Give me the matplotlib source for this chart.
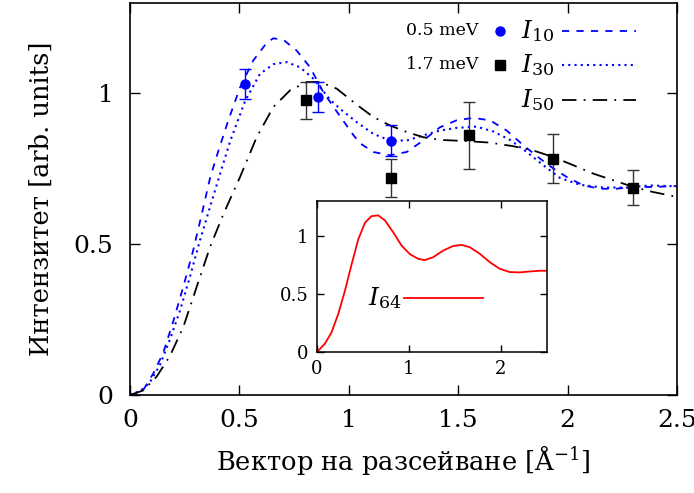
import matplotlib
matplotlib.use('Agg')
import matplotlib.pyplot as plt

plt.rcParams['font.family'] = ['DejaVu Serif']
plt.rcParams['mathtext.fontset'] = 'dejavuserif'

# експериментални точки
q_05 = [0.526, 0.86, 1.193]
i_05 = [1.03, 0.987, 0.844]
err_05 = [0.05, 0.05, 0.05]

q_17 = [0.804, 1.193, 1.55, 1.935, 2.30]
i_17 = [0.977, 0.719, 0.861, 0.784, 0.688]
err_17 = [0.062, 0.063, 0.11, 0.081, 0.059]

# теоретични криви (отчетени от графиката)
q_10 = [0, 0.03, 0.061, 0.107, 0.152, 0.198, 0.244, 0.289, 0.328, 0.366, 0.404,
        0.449, 0.503, 0.564, 0.625, 0.655, 0.701, 0.762, 0.823, 0.883, 0.945,
        1.021, 1.051, 1.112, 1.188, 1.265, 1.34, 1.417, 1.493, 1.569, 1.645,
        1.722, 1.798, 1.874, 1.935, 1.996, 2.072, 2.148, 2.224, 2.3, 2.392, 2.5]
i_10 = [0, 0.005, 0.017, 0.072, 0.14, 0.245, 0.36, 0.48, 0.6, 0.72, 0.81,
        0.91, 1.02, 1.11, 1.168, 1.183, 1.178, 1.142, 1.087, 1.005, 0.94,
        0.862, 0.835, 0.806, 0.795, 0.806, 0.844, 0.888, 0.911, 0.919, 0.911,
        0.877, 0.828, 0.784, 0.751, 0.723, 0.695, 0.684, 0.684, 0.69, 0.69, 0.693]

q_30 = [0, 0.05, 0.091, 0.137, 0.183, 0.229, 0.274, 0.32, 0.366, 0.404, 0.457,
        0.526, 0.594, 0.655, 0.716, 0.777, 0.838, 0.914, 0.96, 1.036, 1.112,
        1.188, 1.265, 1.34, 1.417, 1.493, 1.584, 1.66, 1.737, 1.813, 1.889,
        1.965, 2.057, 2.163, 2.27, 2.377, 2.5]
i_30 = [0, 0.015, 0.042, 0.1, 0.185, 0.281, 0.392, 0.513, 0.624, 0.715, 0.84,
        0.975, 1.065, 1.097, 1.104, 1.087, 1.049, 0.98, 0.949, 0.905, 0.866,
        0.844, 0.844, 0.861, 0.877, 0.886, 0.89, 0.874, 0.846, 0.806, 0.762,
        0.72, 0.697, 0.688, 0.688, 0.695, 0.692]

q_50 = [0, 0.06, 0.122, 0.183, 0.244, 0.305, 0.366, 0.427, 0.503, 0.579, 0.655,
        0.731, 0.808, 0.868, 0.945, 1.036, 1.112, 1.188, 1.265, 1.34, 1.417,
        1.539, 1.645, 1.752, 1.843, 1.935, 2.026, 2.118, 2.209, 2.3, 2.392, 2.5]
i_50 = [0, 0.015, 0.061, 0.13, 0.226, 0.359, 0.491, 0.6, 0.723, 0.855, 0.955,
        1.01, 1.038, 1.038, 1.016, 0.963, 0.922, 0.894, 0.872, 0.855, 0.846,
        0.842, 0.837, 0.825, 0.811, 0.789, 0.762, 0.734, 0.712, 0.69, 0.673, 0.657]

q_64 = [0, 0.087, 0.159, 0.232, 0.304, 0.377, 0.449, 0.522, 0.594, 0.667, 0.739,
        0.83, 0.92, 1.011, 1.101, 1.174, 1.264, 1.373, 1.482, 1.573, 1.663, 1.772,
        1.88, 1.989, 2.098, 2.207, 2.315, 2.424, 2.5]
i_64 = [0, 0.073, 0.171, 0.33, 0.529, 0.757, 0.971, 1.114, 1.171, 1.177, 1.134,
        1.031, 0.917, 0.843, 0.803, 0.792, 0.817, 0.874, 0.914, 0.923, 0.903, 0.846,
        0.774, 0.717, 0.689, 0.686, 0.694, 0.7, 0.7]

fig = plt.figure(figsize=(6.94, 4.93), dpi=100)
ax = fig.add_axes([0.1873, 0.1988, 0.7882, 0.7951])

ax.plot(q_10, i_10, color='blue', lw=1.3, ls=(0, (4, 4)))
ax.plot(q_30, i_30, color='blue', lw=1.5, ls=(0, (1, 2)))
ax.plot(q_50, i_50, color='black', lw=1.3, ls=(0, (8, 4, 1, 4)))

ax.errorbar(q_05, i_05, yerr=err_05, fmt='o', color='blue', ms=6.5,
            elinewidth=1, capsize=4.5, capthick=1)
ax.errorbar(q_17, i_17, yerr=err_17, fmt='s', color='black', ms=6.5,
            ecolor='#333333', elinewidth=1, capsize=4.5, capthick=1)

ax.set_xlim(0, 2.5)
ax.set_ylim(0, 1.3)
ax.set_xticks([0, 0.5, 1, 1.5, 2, 2.5])
ax.set_xticklabels(['0', '0.5', '1', '1.5', '2', '2.5'])
ax.set_yticks([0, 0.5, 1])
ax.set_yticklabels(['0', '0.5', '1'])
ax.tick_params(direction='in', length=7, width=1, top=True, right=True,
               labelsize=18)
ax.tick_params(axis='x', pad=10)
ax.tick_params(axis='y', pad=12)
for s in ax.spines.values():
    s.set_linewidth(1.2)
ax.set_xlabel('Вектор на разсейване [Å$^{-1}$]', fontsize=18.5, labelpad=8)
ax.set_ylabel('Интензитет [arb. units]', fontsize=18.5, labelpad=14)

# легенда
rows = [0.929, 0.842, 0.753]
ax.text(0.636, rows[0], '0.5 meV', transform=ax.transAxes, ha='right',
        va='center', fontsize=12.5)
ax.text(0.636, rows[1], '1.7 meV', transform=ax.transAxes, ha='right',
        va='center', fontsize=12.5)
ax.plot([0.676], [rows[0]], 'o', color='blue', ms=6.5, transform=ax.transAxes)
ax.plot([0.676], [rows[1]], 's', color='black', ms=6.5, transform=ax.transAxes)
labels = ['$I_{10}$', '$I_{30}$', '$I_{50}$']
styles = [('blue', (0, (4, 4)), 1.3), ('blue', (0, (1, 2)), 1.5),
          ('black', (0, (8, 4, 1, 4)), 1.3)]
for y, lab, (c, ls, lw) in zip(rows, labels, styles):
    ax.text(0.715, y, lab, transform=ax.transAxes, ha='left', va='center',
            fontsize=18)
    ax.plot([0.79, 0.925], [y, y], color=c, ls=ls, lw=lw,
            transform=ax.transAxes)

# вмъкната графика
ins = fig.add_axes([0.4568, 0.286, 0.331, 0.306])
ins.plot(q_64, i_64, color='red', lw=1.3)
ins.set_xlim(0, 2.5)
ins.set_ylim(0, 1.3)
ins.set_xticks([0, 1, 2])
ins.set_yticks([0, 0.5, 1])
ins.set_yticklabels(['0', '0.5', '1'])
ins.tick_params(direction='in', length=5, width=1, top=True, right=True,
                labelsize=13, pad=6)
for s in ins.spines.values():
    s.set_linewidth(1.1)
ins.text(0.222, 0.358, '$I_{64}$', transform=ins.transAxes, ha='left',
         va='center', fontsize=18)
ins.plot([0.378, 0.722], [0.358, 0.358], color='red', lw=1.3,
         transform=ins.transAxes)

fig.savefig('out.png', dpi=100)
